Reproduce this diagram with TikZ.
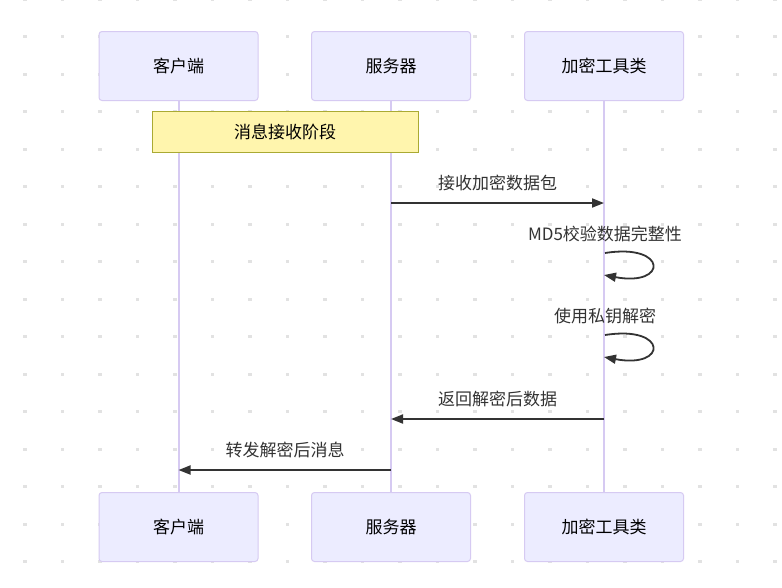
\documentclass[tikz,border=0pt]{standalone}
\usepackage{fontspec}
\setmainfont{Noto Sans CJK SC}
\usetikzlibrary{arrows.meta}
\definecolor{actfill}{HTML}{ECECFF}
\definecolor{actline}{HTML}{D6CAF2}
\definecolor{notefill}{HTML}{FFF5AD}
\definecolor{noteline}{HTML}{AAAA33}
\definecolor{txt}{HTML}{333333}
\definecolor{griddot}{HTML}{E2E2E2}
\begin{document}
\begin{tikzpicture}[x=1pt,y=-1pt,
  actor/.style={draw=actline,fill=actfill,line width=1pt,rounded corners=3pt,minimum width=159pt,minimum height=69pt,inner sep=0pt,font=\fontsize{17pt}{20pt}\selectfont,text=black},
  lifeline/.style={draw=actline,line width=2pt},
  notebox/.style={draw=noteline,fill=notefill,line width=1pt,minimum width=266pt,minimum height=41pt,inner sep=0pt,font=\fontsize{17pt}{20pt}\selectfont,text=black},
  msg/.style={draw=txt,line width=1.8pt,-{Triangle[length=12pt,width=9pt]}},
  lbl/.style={font=\fontsize{17pt}{20pt}\selectfont,text=txt,inner sep=0pt}]
\useasboundingbox (0,0) rectangle (782,587);
\fill[white] (0,0) rectangle (782,587);
\foreach \i in {0,...,20}{
  \foreach \j in {0,...,15}{
    \fill[griddot] ({25+37.5*\i-1.6},{-0.8+37.5*\j-1.6}) rectangle ++(3.2,3.2);
  }
}
% actors
\node[actor] (c1) at (178.5,66) {客户端};
\node[actor] (s1) at (391,66) {服务器};
\node[actor] (e1) at (604,66) {加密工具类};
\node[actor] (c2) at (178.5,527) {客户端};
\node[actor] (s2) at (391,527) {服务器};
\node[actor] (e2) at (604,527) {加密工具类};
\draw[lifeline] (c1.south) -- (c2.north);
\draw[lifeline] (s1.south) -- (s2.north);
\draw[lifeline] (e1.south) -- (e2.north);
% note
\node[notebox] (note) at (285,132) {消息接收阶段};
% message endpoints
\coordinate (m1a) at (391,203);
\coordinate (m1b) at (604,203);
\coordinate (l1a) at (605,253);
\coordinate (l1b) at (604,275);
\coordinate (l2a) at (605,335);
\coordinate (l2b) at (604,357);
\coordinate (m4a) at (604,419);
\coordinate (m4b) at (391,419);
\coordinate (m5a) at (391,470);
\coordinate (m5b) at (178.5,470);
% messages
\draw[msg] (m1a) -- (m1b);
\node[lbl] (t1) at (497.5,183) {接收加密数据包};
\node[lbl] (t2) at (605,234) {MD5校验数据完整性};
\draw[msg] (l1a) .. controls (668,243) and (668,287) .. (l1b);
\node[lbl] (t3) at (605,316) {使用私钥解密};
\draw[msg] (l2a) .. controls (668,325) and (668,369) .. (l2b);
\draw[msg] (m4a) -- (m4b);
\node[lbl] (t4) at (497.5,399) {返回解密后数据};
\draw[msg] (m5a) -- (m5b);
\node[lbl] (t5) at (285,450) {转发解密后消息};
\end{tikzpicture}
\end{document}
